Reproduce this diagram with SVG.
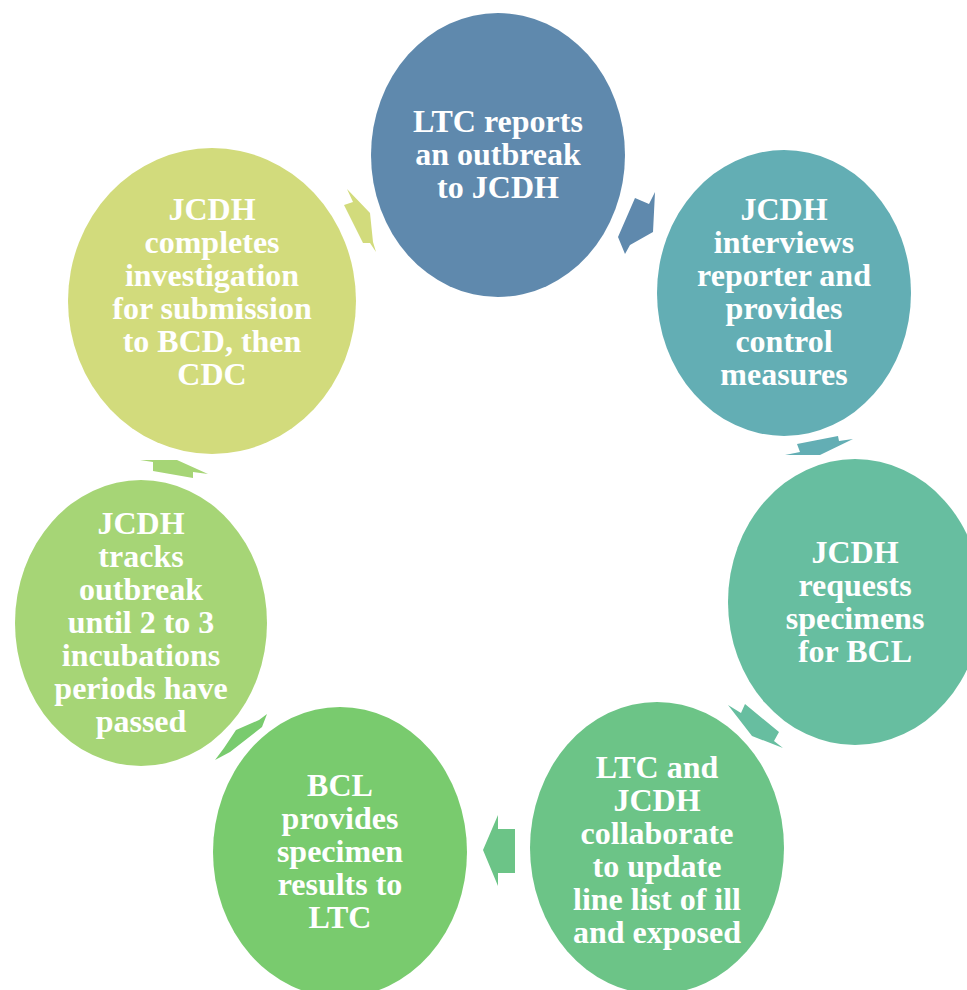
<svg xmlns="http://www.w3.org/2000/svg" width="967" height="990" viewBox="0 0 967 990">
<style>
.t{font-family:"Liberation Serif","Times New Roman",serif;font-weight:bold;font-size:32px;fill:#ffffff;text-anchor:middle}
</style>
<rect width="967" height="990" fill="#ffffff"/>
<g id="connectors">
<polygon fill="#5F89AD" points="635,198 649,204 655,192 653,232 630,245 625,254 618,237"/>
<polygon fill="#63AEB4" points="797,444 838,436 839,441 853,439 820,455 785,455 800,452"/>
<polygon fill="#67BEA0" points="728,705 741,713 745,704 779,732 774,741 783,748 752,736"/>
<polygon fill="#6CC487" points="498,815 498,829 515,829 515,873 498,873 498,886 483,850"/>
<polygon fill="#79CB6E" points="236,730 259,720 267,714 262,727 230,752 215,760 224,748"/>
<polygon fill="#A6D576" points="140,460 177,460 208,474 193,472 193,478 153,471 153,462"/>
<polygon fill="#D2DB7C" points="347,189 370,213 373,242 376,252 370,243 363,243 344,205 353,202"/>
</g>
<g id="n1">
<ellipse cx="498" cy="155" rx="127" ry="142" fill="#5F89AD"/>
<text class="t" x="498" y="132">LTC reports</text>
<text class="t" x="498" y="165">an outbreak</text>
<text class="t" x="498" y="198">to JCDH</text>
</g>
<g id="n2">
<ellipse cx="784" cy="293" rx="127" ry="143" fill="#63AEB4"/>
<text class="t" x="784" y="220">JCDH</text>
<text class="t" x="784" y="253">interviews</text>
<text class="t" x="784" y="286">reporter and</text>
<text class="t" x="784" y="319">provides</text>
<text class="t" x="784" y="352">control</text>
<text class="t" x="784" y="385">measures</text>
</g>
<g id="n3">
<ellipse cx="855" cy="602" rx="127" ry="143" fill="#67BEA0"/>
<text class="t" x="855" y="563">JCDH</text>
<text class="t" x="855" y="596">requests</text>
<text class="t" x="855" y="629">specimens</text>
<text class="t" x="855" y="662">for BCL</text>
</g>
<g id="n4">
<ellipse cx="657" cy="848" rx="127" ry="146" fill="#6CC487"/>
<text class="t" x="657" y="778">LTC and</text>
<text class="t" x="657" y="811">JCDH</text>
<text class="t" x="657" y="844">collaborate</text>
<text class="t" x="657" y="877">to update</text>
<text class="t" x="657" y="910">line list of ill</text>
<text class="t" x="657" y="943">and exposed</text>
</g>
<g id="n5">
<ellipse cx="340" cy="852" rx="127" ry="145" fill="#79CB6E"/>
<text class="t" x="340" y="796">BCL</text>
<text class="t" x="340" y="829">provides</text>
<text class="t" x="340" y="862">specimen</text>
<text class="t" x="340" y="895">results to</text>
<text class="t" x="340" y="928">LTC</text>
</g>
<g id="n6">
<ellipse cx="141" cy="623" rx="126" ry="143" fill="#A6D576"/>
<text class="t" x="141" y="534">JCDH</text>
<text class="t" x="141" y="567">tracks</text>
<text class="t" x="141" y="600">outbreak</text>
<text class="t" x="141" y="633">until 2 to 3</text>
<text class="t" x="141" y="666">incubations</text>
<text class="t" x="141" y="699">periods have</text>
<text class="t" x="141" y="732">passed</text>
</g>
<g id="n7">
<ellipse cx="212" cy="301" rx="144" ry="153" fill="#D2DB7C"/>
<text class="t" x="212" y="220">JCDH</text>
<text class="t" x="212" y="253">completes</text>
<text class="t" x="212" y="286">investigation</text>
<text class="t" x="212" y="319">for submission</text>
<text class="t" x="212" y="352">to BCD, then</text>
<text class="t" x="212" y="385">CDC</text>
</g>
</svg>
